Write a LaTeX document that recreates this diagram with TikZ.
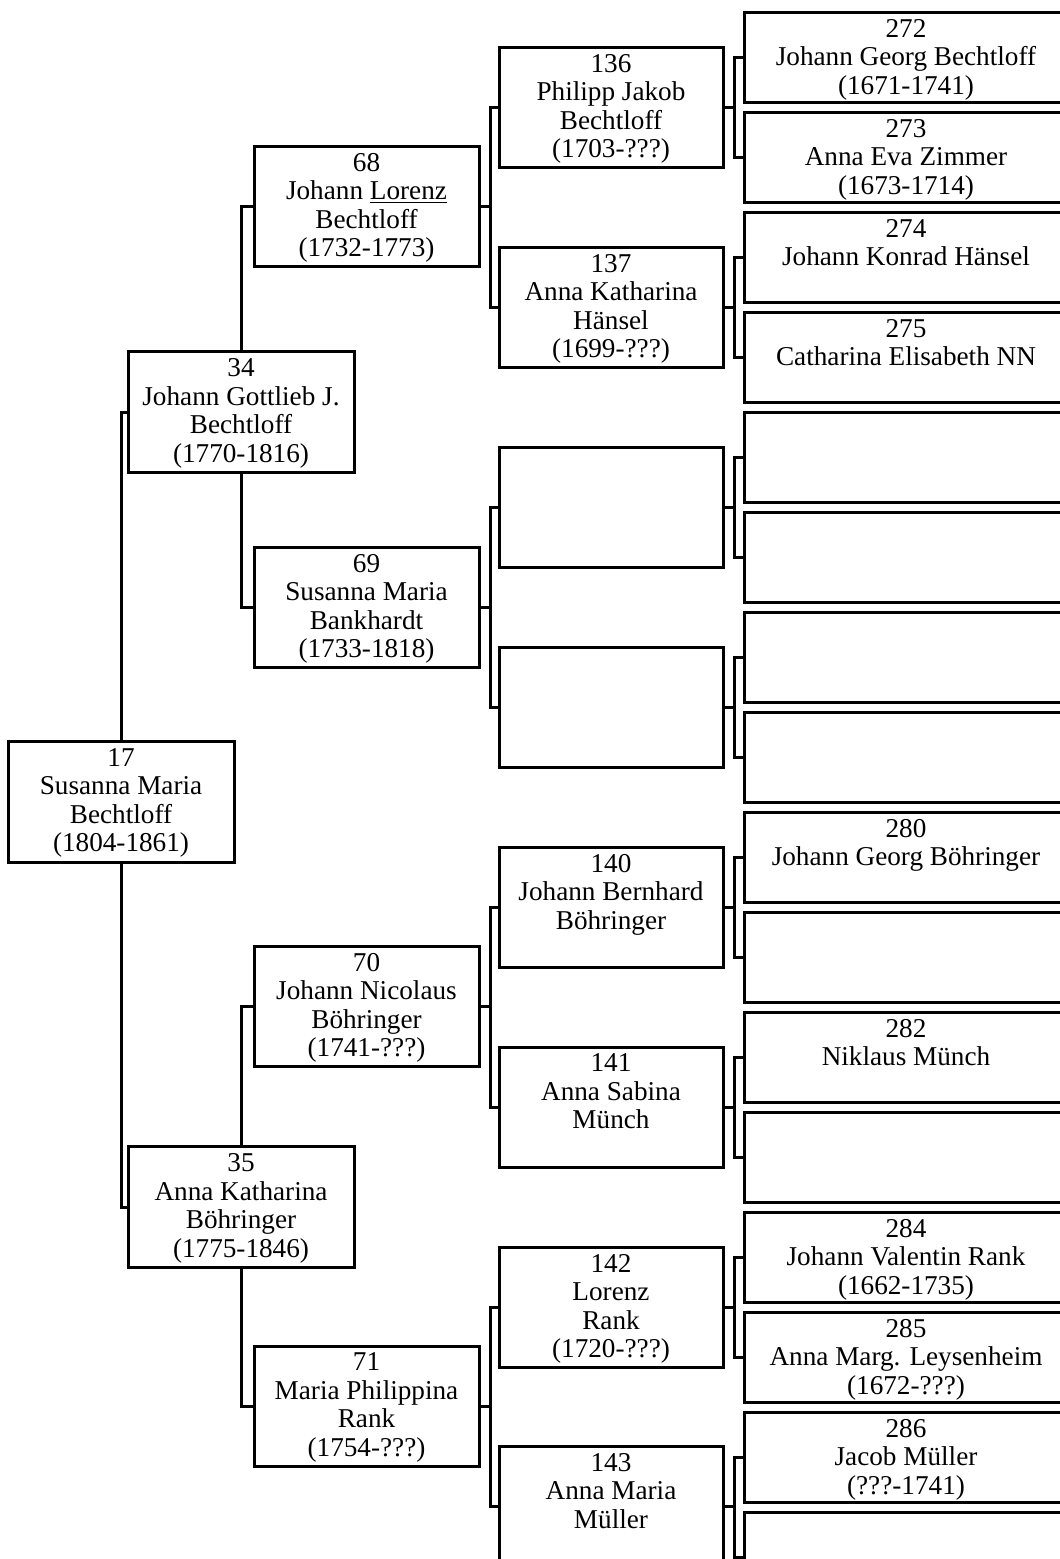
\documentclass[tikz,border=0pt]{standalone}
\usepackage{fontspec}
\setmainfont{Liberation Serif}
\usetikzlibrary{positioning}

\begin{document}
\begin{tikzpicture}[x=0.5pt,y=-0.5pt,line width=1.5pt,
  box/.style={draw,rectangle,inner sep=0pt},
  g0/.style={box,minimum width=113pt,minimum height=60.5pt},
  g2/.style={box,minimum width=112.5pt,minimum height=60pt},
  g3/.style={box,minimum width=112pt,minimum height=60pt},
  g4/.style={box,minimum width=162pt,minimum height=45pt},
  who/.style={anchor=north,align=center,inner sep=3.5pt,
    font=\fontsize{13.6}{14.25}\selectfont}]
\useasboundingbox (0,0) rectangle (1060,1559);
\clip (0,0) rectangle (1060,1559);

% proband and parents
\node[g0,label={[who]north:17\\Susanna Maria\\Bechtloff\\(1804-1861)}] (p17) at (121,802) {};
\node[g0,label={[who]north:34\\Johann Gottlieb J.\\Bechtloff\\(1770-1816)}] (p34) at (241,412) {};
\node[g0,label={[who]north:35\\Anna Katharina\\Böhringer\\(1775-1846)}] (p35) at (241,1207) {};

% grandparents
\node[g2,label={[who]north:68\\Johann \underline{Lorenz}\\Bechtloff\\(1732-1773)}] (p68) at (366.5,206) {};
\node[g2,label={[who]north:69\\Susanna Maria\\Bankhardt\\(1733-1818)}] (p69) at (366.5,607) {};
\node[g2,label={[who]north:70\\Johann Nicolaus\\Böhringer\\(1741-???)}] (p70) at (366.5,1006) {};
\node[g2,label={[who]north:71\\Maria Philippina\\Rank\\(1754-???)}] (p71) at (366.5,1406) {};

% great-grandparents
\node[g3,label={[who]north:136\\Philipp Jakob\\Bechtloff\\(1703-???)}] (p136) at (611,107) {};
\node[g3,label={[who]north:137\\Anna Katharina\\Hänsel\\(1699-???)}] (p137) at (611,307) {};
\node[g3] (p138) at (611,507) {};
\node[g3] (p139) at (611,707) {};
\node[g3,label={[who]north:140\\Johann Bernhard\\Böhringer}] (p140) at (611,907) {};
\node[g3,label={[who]north:141\\Anna Sabina\\Münch}] (p141) at (611,1107) {};
\node[g3,label={[who]north:142\\Lorenz\\Rank\\(1720-???)}] (p142) at (611,1307) {};
\node[g3,label={[who]north:143\\Anna Maria\\Müller}] (p143) at (611,1506) {};

% great-great-grandparents
\node[g4,label={[who]north:272\\Johann Georg Bechtloff\\(1671-1741)}] (p272) at (906,57) {};
\node[g4,label={[who]north:273\\Anna Eva Zimmer\\(1673-1714)}] (p273) at (906,157) {};
\node[g4,label={[who]north:274\\Johann Konrad Hänsel}] (p274) at (906,257) {};
\node[g4,label={[who]north:275\\Catharina Elisabeth NN}] (p275) at (906,357) {};
\node[g4] (p276) at (906,457) {};
\node[g4] (p277) at (906,557) {};
\node[g4] (p278) at (906,657) {};
\node[g4] (p279) at (906,757) {};
\node[g4,label={[who]north:280\\Johann Georg Böhringer}] (p280) at (906,857) {};
\node[g4] (p281) at (906,957) {};
\node[g4,label={[who]north:282\\Niklaus Münch}] (p282) at (906,1057) {};
\node[g4] (p283) at (906,1157) {};
\node[g4,label={[who]north:284\\Johann Valentin Rank\\(1662-1735)}] (p284) at (906,1257) {};
\node[g4,label={[who]north:285\\Anna Marg. Leysenheim\\(1672-???)}] (p285) at (906,1357) {};
\node[g4,label={[who]north:286\\Jacob Müller\\(???-1741)}] (p286) at (906,1457) {};
\node[g4] (p287) at (906,1557) {};

\path[draw]
  (p17.north) |- (p34.west)  (p17.south) |- (p35.west)
  (p34.north) |- (p68.west)  (p34.south) |- (p69.west)
  (p35.north) |- (p70.west)  (p35.south) |- (p71.west)
  (p68.east) -- ++(10,0) |- (p136.west)  (p68.east) -- ++(10,0) |- (p137.west)
  (p69.east) -- ++(10,0) |- (p138.west)  (p69.east) -- ++(10,0) |- (p139.west)
  (p70.east) -- ++(10,0) |- (p140.west)  (p70.east) -- ++(10,0) |- (p141.west)
  (p71.east) -- ++(10,0) |- (p142.west)  (p71.east) -- ++(10,0) |- (p143.west)
  (p136.east) -- ++(10,0) |- (p272.west)  (p136.east) -- ++(10,0) |- (p273.west)
  (p137.east) -- ++(10,0) |- (p274.west)  (p137.east) -- ++(10,0) |- (p275.west)
  (p138.east) -- ++(10,0) |- (p276.west)  (p138.east) -- ++(10,0) |- (p277.west)
  (p139.east) -- ++(10,0) |- (p278.west)  (p139.east) -- ++(10,0) |- (p279.west)
  (p140.east) -- ++(10,0) |- (p280.west)  (p140.east) -- ++(10,0) |- (p281.west)
  (p141.east) -- ++(10,0) |- (p282.west)  (p141.east) -- ++(10,0) |- (p283.west)
  (p142.east) -- ++(10,0) |- (p284.west)  (p142.east) -- ++(10,0) |- (p285.west)
  (p143.east) -- ++(10,0) |- (p286.west)  (p143.east) -- ++(10,0) |- (p287.west);
\end{tikzpicture}
\end{document}
